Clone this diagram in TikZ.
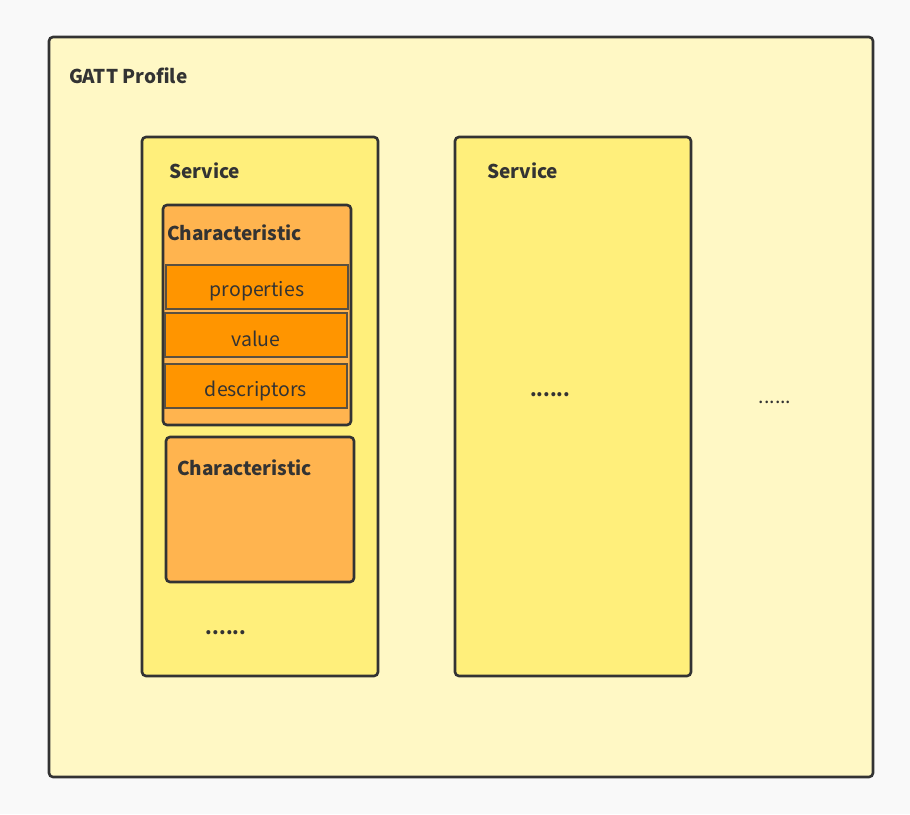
\documentclass[tikz,border=0pt]{standalone}
\usepackage{fontspec}
\setmainfont{Noto Sans CJK SC}
\begin{document}
\begin{tikzpicture}[x=1pt,y=-1pt,
  txt/.style={text=textc, inner sep=0pt, font=\fontsize{19.5}{21}\selectfont},
  btxt/.style={txt, font=\fontsize{19}{21}\selectfont\bfseries},
  boxs/.style={draw=linec, line width=2.6pt, rounded corners=4pt},
  rowbox/.style={draw=rowline, line width=1.5pt, fill=rowc}]
\definecolor{bgc}{HTML}{F9F9F9}
\definecolor{outerc}{HTML}{FFF8C5}
\definecolor{servc}{HTML}{FFEF7B}
\definecolor{charc}{HTML}{FFB44F}
\definecolor{rowc}{HTML}{FF9500}
\definecolor{rowline}{HTML}{5A5040}
\definecolor{linec}{HTML}{333333}
\definecolor{textc}{HTML}{333333}
\fill[bgc] (0,0) rectangle (910,814);
\useasboundingbox (0,0) rectangle (910,814);
% outer profile
\draw[boxs, fill=outerc] (49,37) rectangle (873,777);
\node[btxt, anchor=west] (gatt) at (69,76) {GATT Profile};
% service 1
\draw[boxs, fill=servc] (142,137) rectangle (378,676);
\node[btxt, anchor=west] (s1) at (169,171) {Service};
% characteristic 1
\draw[boxs, fill=charc] (163,205) rectangle (351,425);
\node[btxt, anchor=west] (c1) at (167,233) {Characteristic};
\draw[rowbox] (166,265) rectangle (348,309);
\node[txt] (prop) at (257,291.5) {properties};
\draw[rowbox] (165,313) rectangle (347,357);
\node[txt] (val) at (256,339) {value};
\draw[rowbox] (165,364) rectangle (347,408);
\node[txt] (desc) at (256,390.5) {descriptors};
% characteristic 2
\draw[boxs, fill=charc] (166,437) rectangle (354,582);
\node[btxt, anchor=west] (c2) at (177,468) {Characteristic};
\node[btxt] (d1) at (226,632.5) {......};
% service 2
\draw[boxs, fill=servc] (455,137) rectangle (691,676);
\node[btxt, anchor=west] (s2) at (487,171) {Service};
\node[btxt] (d2) at (550,394.5) {......};
% outside dots
\node[txt] (d3) at (775,402.5) {......};
\end{tikzpicture}
\end{document}
